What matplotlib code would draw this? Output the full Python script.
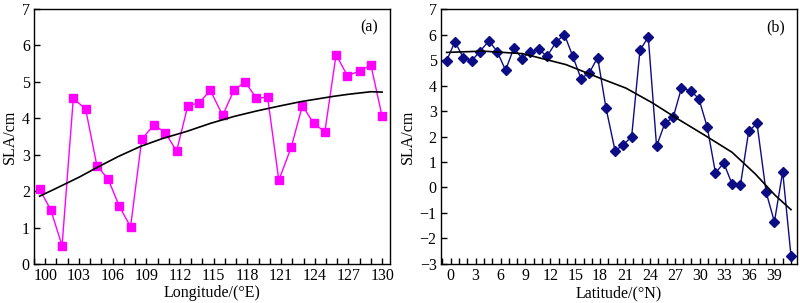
import numpy as np
import matplotlib
matplotlib.use("Agg")
import matplotlib.pyplot as plt
from matplotlib.ticker import MultipleLocator

plt.rcParams['font.family'] = ['Liberation Serif', 'DejaVu Serif']

# panel (a): SLA vs longitude
lon = [99.5, 100.5, 101.5, 102.5, 103.6, 104.6, 105.6, 106.6, 107.6, 108.6,
       109.7, 110.7, 111.7, 112.7, 113.7, 114.7, 115.8, 116.8, 117.8, 118.8,
       119.8, 120.8, 121.9, 122.9, 123.9, 124.9, 125.9, 126.9, 128.0, 129.0, 130.0]
sla_lon = [2.05, 1.48, 0.5, 4.55, 4.25, 2.7, 2.33, 1.58, 1.02, 3.43,
           3.82, 3.6, 3.1, 4.35, 4.42, 4.77, 4.08, 4.77, 5.0, 4.55,
           4.58, 2.3, 3.2, 4.35, 3.86, 3.63, 5.75, 5.17, 5.3, 5.46, 4.05]
fit_lon_x = [99.5, 101.0, 103.0, 104.5, 106.5, 108.5, 110.5, 112.6, 114.7, 116.8,
             118.8, 120.9, 122.8, 125.6, 127.0, 129.0, 130.0]
fit_lon_y = [1.86, 2.08, 2.38, 2.63, 2.95, 3.23, 3.45, 3.64, 3.86, 4.05,
             4.2, 4.34, 4.46, 4.6, 4.66, 4.73, 4.72]

# panel (b): SLA vs latitude
lat = [-0.5, 0.5, 1.5, 2.5, 3.5, 4.6, 5.6, 6.6, 7.6, 8.6, 9.6, 10.6, 11.6, 12.7,
       13.7, 14.7, 15.7, 16.7, 17.7, 18.7, 19.8, 20.8, 21.8, 22.8, 23.8, 24.8,
       25.8, 26.8, 27.8, 28.9, 29.9, 30.9, 31.9, 32.9, 33.9, 34.9, 35.9, 36.9,
       38.0, 39.0, 40.0, 41.0]
sla_lat = [4.97, 5.72, 5.1, 4.97, 5.33, 5.76, 5.33, 4.6, 5.47, 5.06, 5.33, 5.42,
           5.15, 5.71, 6.0, 5.15, 4.27, 4.5, 5.1, 3.13, 1.44, 1.67, 2.0, 5.38,
           5.91, 1.62, 2.52, 2.75, 3.9, 3.8, 3.48, 2.38, 0.57, 0.96, 0.13, 0.08,
           2.2, 2.52, -0.18, -1.35, 0.62, -2.68]
fit_lat_x = [-0.5, 3.9, 8.7, 13.9, 17.9, 21.1, 24.3, 27.1, 30.7, 33.9, 36.7, 39.1, 41.0]
fit_lat_y = [5.3, 5.35, 5.25, 4.82, 4.3, 3.9, 3.32, 2.74, 2.03, 1.38, 0.53, -0.31, -0.87]

fig = plt.figure(figsize=(8, 3.03), dpi=100)
ax1 = fig.add_axes([0.0425, 0.129, 0.445, 0.841])
ax2 = fig.add_axes([0.551, 0.129, 0.445, 0.841])

ax1.plot(lon, sla_lon, color='#ff00ff', lw=1, marker='s', ms=5.5, zorder=2)
ax1.plot(fit_lon_x, fit_lon_y, color='black', lw=1.2, zorder=3)
ax1.set_xlim(99.0, 130.7)
ax1.set_ylim(0, 7)
ax1.set_xticks(range(100, 131, 3))
ax1.xaxis.set_minor_locator(MultipleLocator(1))
ax1.set_yticks(range(0, 8))
ax1.set_xlabel('Longitude/(°E)', fontsize=11.5, labelpad=1)
ax1.set_ylabel('SLA/cm', fontsize=11.5, labelpad=3)
ax1.text(0.94, 0.93, '(a)', transform=ax1.transAxes, ha='center', va='center', fontsize=11.5)

ax2.plot(lat, sla_lat, color='#0c0c84', lw=1, marker='D', ms=5, zorder=2)
ax2.plot(fit_lat_x, fit_lat_y, color='black', lw=1.2, zorder=3)
ax2.set_xlim(-1.2, 41.7)
ax2.set_ylim(-3, 7)
ax2.set_xticks(range(0, 40, 3))
ax2.xaxis.set_minor_locator(MultipleLocator(1))
ax2.set_yticks(range(-3, 8))
ax2.set_xlabel('Latitude/(°N)', fontsize=11.5, labelpad=1)
ax2.set_ylabel('SLA/cm', fontsize=11.5, labelpad=3)
ax2.text(0.94, 0.93, '(b)', transform=ax2.transAxes, ha='center', va='center', fontsize=11.5)

for ax in (ax1, ax2):
    ax.tick_params(which='both', direction='in', top=False, right=False, labelsize=11.5, pad=3)
    ax.tick_params(which='both', length=4, width=1)
    for s in ax.spines.values():
        s.set_linewidth(1)

fig.savefig('out.png', dpi=100)
